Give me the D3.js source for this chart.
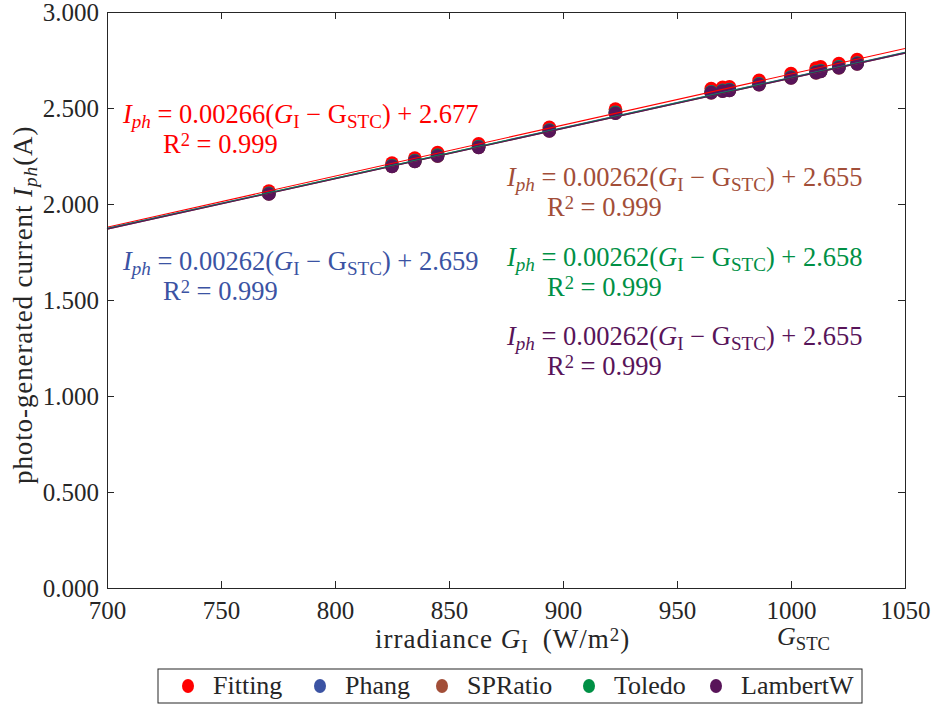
<!DOCTYPE html>
<html>
<head>
<meta charset="utf-8">
<script src="https://cdn.jsdelivr.net/npm/d3@7"></script>
<style>
body { margin: 0; background: #fff; }
</style>
</head>
<body>
<script>
// irradiance of each measurement
var irradiance = [771, 825, 835, 845, 863, 894, 923, 965, 970, 973, 986, 1000, 1011, 1013, 1021, 1029];

// photo-generated current per method
var fitting  = [2.068, 2.213, 2.239, 2.268, 2.313, 2.400, 2.494, 2.601, 2.608, 2.611, 2.644, 2.679, 2.708, 2.714, 2.732, 2.752];
var phang    = [2.056, 2.200, 2.226, 2.254, 2.299, 2.385, 2.477, 2.584, 2.592, 2.596, 2.626, 2.661, 2.688, 2.694, 2.714, 2.734];
var spratio  = [2.052, 2.195, 2.222, 2.249, 2.295, 2.380, 2.473, 2.579, 2.588, 2.591, 2.622, 2.656, 2.683, 2.690, 2.709, 2.730];
var toledo   = [2.055, 2.199, 2.225, 2.253, 2.298, 2.384, 2.476, 2.583, 2.591, 2.595, 2.625, 2.660, 2.687, 2.693, 2.713, 2.733];
var lambertw = [2.052, 2.196, 2.222, 2.250, 2.295, 2.381, 2.473, 2.580, 2.588, 2.592, 2.622, 2.657, 2.684, 2.690, 2.710, 2.730];

var names  = ["Fitting", "Phang", "SPRatio", "Toledo", "LambertW"];
var colors = ["#ff0000", "#3b53a3", "#a24e38", "#009045", "#581459"];
var slopes = [0.00266, 0.00262, 0.00262, 0.00262, 0.00262];
var intercepts = [2.677, 2.659, 2.655, 2.658, 2.655];
var r2 = [0.999, 0.999, 0.999, 0.999, 0.999];
var gstc = 1000;

var xTicks = [700, 750, 800, 850, 900, 950, 1000, 1050];
var yTicks = [0, 0.5, 1, 1.5, 2, 2.5, 3];

var series = [fitting, phang, spratio, toledo, lambertw];

var FONT = "'Liberation Serif', 'DejaVu Serif', serif";
var w = 931, h = 704;
var margin = {left: 107, right: 26, top: 12, bottom: 116};

var svg = d3.select("body").append("svg")
  .attr("width", w)
  .attr("height", h)
  .attr("font-family", FONT);

var x = d3.scaleLinear().domain([700, 1050]).range([margin.left, w - margin.right]);
var y = d3.scaleLinear().domain([0, 3]).range([h - margin.bottom, margin.top]);

// points
var gPts = svg.append("g");
series.forEach(function(s, i) {
  gPts.selectAll(null)
    .data(s)
    .enter()
    .append("circle")
    .attr("cx", function(d, j) { return x(irradiance[j]); })
    .attr("cy", function(d) { return y(d); })
    .attr("r", 6.8)
    .style("fill", colors[i]);
});

// fit lines
var line = d3.line().x(function(d) { return x(d[0]); }).y(function(d) { return y(d[1]); });
slopes.forEach(function(m, i) {
  var pts = x.domain().map(function(g) { return [g, m * (g - gstc) + intercepts[i]]; });
  svg.append("path")
    .attr("d", line(pts))
    .style("fill", "none")
    .style("stroke", colors[i])
    .style("stroke-width", 1.1);
});

// axes, ticks inward and mirrored
var ax = svg.append("g");
ax.append("g")
  .attr("transform", "translate(0," + y(0) + ")")
  .call(d3.axisBottom(x).tickValues(xTicks).tickSize(-7).tickPadding(13).tickFormat(d3.format("d")));
ax.append("g")
  .attr("transform", "translate(0," + y(3) + ")")
  .call(d3.axisTop(x).tickValues(xTicks).tickSize(-7).tickFormat(""));
ax.append("g")
  .attr("transform", "translate(" + x(700) + ",0)")
  .call(d3.axisLeft(y).tickValues(yTicks).tickSize(-7).tickPadding(8).tickFormat(d3.format(".3f")));
ax.append("g")
  .attr("transform", "translate(" + x(1050) + ",0)")
  .call(d3.axisRight(y).tickValues(yTicks).tickSize(-7).tickFormat(""));
ax.selectAll(".domain").style("stroke", "#262626");
ax.selectAll(".tick line").style("stroke", "#262626");
ax.selectAll("text")
  .attr("font-family", FONT)
  .attr("font-size", 25)
  .style("fill", "#262626");

// rich text helper: segments [text, style]
function rich(sel, segs) {
  var base = 0;
  segs.forEach(function(s) {
    var t = sel.append("tspan").text(s[0]);
    var st = s[1] || "";
    var off = 0;
    if (st.indexOf("sub") >= 0) { off = 5; t.style("font-size", "0.72em"); }
    if (st.indexOf("sup") >= 0) { off = -7; t.style("font-size", "0.7em"); }
    if (st.indexOf("i") === 0) t.style("font-style", "italic");
    t.attr("dy", off - base);
    base = off;
  });
  return sel;
}

function eqSegs(i) {
  return [["I", "i"], ["ph", "isub"], [" = " + slopes[i].toFixed(5) + "("], ["G", "i"], ["I", "sub"],
          [" \u2212 G"], ["STC", "sub"], [") + " + intercepts[i].toFixed(3)]];
}

var eqPos = [[123, 123], [123, 270], [507, 186], [507, 266], [507, 345]];
names.forEach(function(n, i) {
  var g = svg.append("g").attr("font-size", 26.5);
  rich(g.append("text").attr("x", eqPos[i][0]).attr("y", eqPos[i][1]).style("fill", colors[i]), eqSegs(i));
  rich(g.append("text").attr("x", eqPos[i][0] + 40).attr("y", eqPos[i][1] + 30).style("fill", colors[i]),
       [["R"], ["2", "sup"], [" = " + r2[i].toFixed(3)]]);
});

// axis labels
rich(svg.append("text").attr("x", 375).attr("y", 648).attr("font-size", 27)
       .style("letter-spacing", "1px").style("fill", "#262626"),
     [["irradiance "], ["G", "i"], ["I", "sub"], ["\u2009 (W/m"], ["2", "sup"], [")"]]);
rich(svg.append("text").attr("x", 777).attr("y", 645).attr("font-size", 26).style("fill", "#262626"),
     [["G", "i"], ["STC", "sub"]]);
rich(svg.append("text")
       .attr("transform", "translate(32,484) rotate(-90)")
       .attr("font-size", 27)
       .style("letter-spacing", "0.9px")
       .style("fill", "#262626"),
     [["photo-generated current "], ["I", "i"], ["ph", "isub"], ["(A)"]]);

// legend
var leg = svg.append("g");
leg.append("rect")
  .attr("x", 158).attr("y", 669).attr("width", 704).attr("height", 34)
  .style("fill", "#fff").style("stroke", "#262626").style("stroke-width", 1);
var legX = [188, 320, 442, 589, 716];
names.forEach(function(n, i) {
  leg.append("ellipse").attr("cx", legX[i]).attr("cy", 686).attr("rx", 6).attr("ry", 7).style("fill", colors[i]);
  leg.append("text").attr("x", legX[i] + 25).attr("y", 694).attr("font-size", 26)
    .style("fill", "#262626").text(n);
});
</script>
</body>
</html>
